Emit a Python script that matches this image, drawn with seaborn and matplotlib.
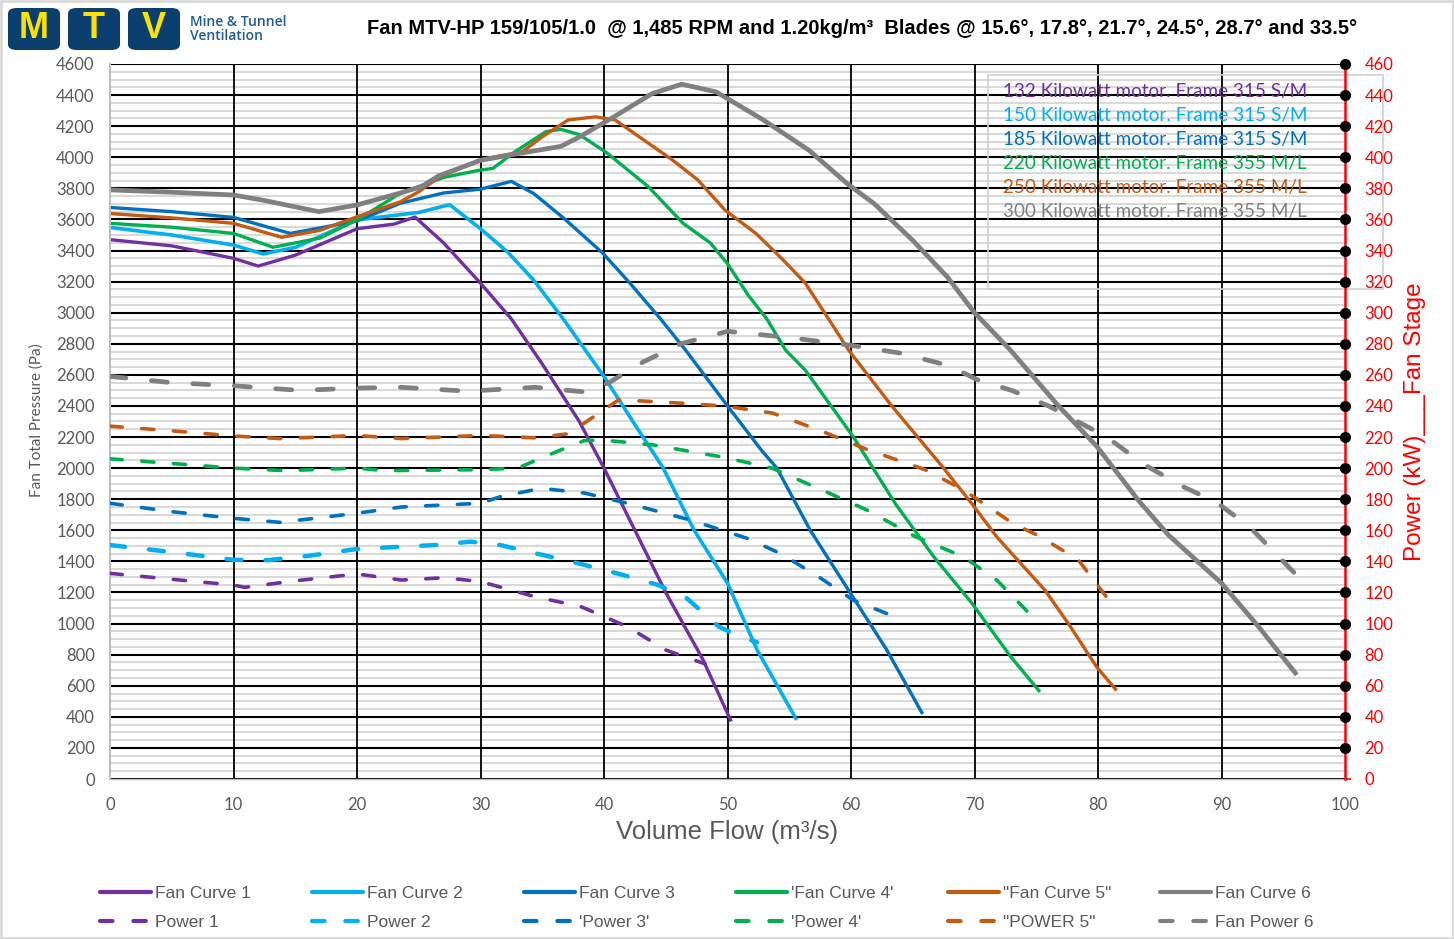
import numpy as np
import pandas as pd
import matplotlib
matplotlib.use("Agg")
import matplotlib.pyplot as plt
import seaborn as sns
from matplotlib.patches import FancyBboxPatch, Rectangle
from matplotlib.lines import Line2D

# ---------------- data ----------------
fc1_x = [0, 5, 10, 12, 15, 20, 23, 24.7, 27, 30, 32.5, 35, 38, 40, 42.5, 45, 48, 50.3]
fc1_y = [3470, 3430, 3350, 3300, 3370, 3540, 3570, 3615, 3450, 3190, 2960, 2670, 2300, 2000, 1600, 1200, 770, 370]

fc2_x = [0, 5, 10, 12.4, 15, 20, 25, 27.5, 30, 32.2, 34.3, 36.7, 40, 42.5, 44.8, 47.3, 50, 52.4, 55.6]
fc2_y = [3548, 3500, 3435, 3378, 3420, 3597, 3645, 3695, 3540, 3390, 3210, 2960, 2590, 2280, 2000, 1600, 1260, 830, 380]

fc3_x = [0, 5, 10, 14.6, 20, 23.5, 27, 30, 32.5, 34.3, 36.8, 39.9, 42.1, 44.6, 46.6, 50, 52.8, 54.0, 56.7, 60.0, 62.9, 65.8]
fc3_y = [3677, 3650, 3613, 3510, 3590, 3704, 3770, 3795, 3845, 3767, 3604, 3383, 3190, 2958, 2760, 2400, 2110, 2000, 1600, 1190, 830, 418]

fc4_x = [0, 5, 10, 13.2, 17, 20, 23.5, 27, 30, 31, 32.8, 35.3, 36.5, 38, 40.2, 43.6, 46.4, 48.6, 50, 51.7, 53.2, 54.7, 56.3, 60.2, 63.6, 66.7, 69.8, 72.9, 75.3]
fc4_y = [3575, 3550, 3510, 3421, 3480, 3597, 3768, 3870, 3918, 3928, 4036, 4165, 4180, 4146, 4030, 3810, 3575, 3450, 3315, 3110, 2958, 2760, 2630, 2200, 1770, 1430, 1130, 790, 560]

fc5_x = [0, 5, 10, 13.9, 17, 20, 23.5, 25, 26.6, 30, 33.4, 35, 37.1, 39.3, 40.9, 43.6, 45.5, 47.6, 49.8, 52.3, 54.5, 56.3, 58.2, 59.8, 63.3, 67.5, 69.8, 71.8, 75.7, 77.6, 79.9, 81.5]
fc5_y = [3638, 3610, 3575, 3485, 3530, 3617, 3713, 3778, 3870, 3985, 4036, 4132, 4240, 4260, 4240, 4090, 3985, 3854, 3660, 3510, 3340, 3190, 2958, 2760, 2400, 2000, 1770, 1558, 1215, 1000, 720, 570]

fc6_x = [0, 5, 10, 12.3, 16.9, 20, 23.5, 25.2, 26.6, 30, 32.8, 36.5, 38, 40.8, 43.9, 46.3, 49.1, 52.9, 56.6, 59.7, 61.9, 65, 67.8, 70, 72.9, 76.8, 79.9, 83.3, 85.7, 90, 93, 96.1]
fc6_y = [3790, 3775, 3757, 3725, 3650, 3693, 3770, 3810, 3880, 3980, 4020, 4070, 4130, 4260, 4410, 4470, 4420, 4240, 4045, 3830, 3700, 3465, 3230, 3000, 2760, 2400, 2140, 1790, 1570, 1260, 980, 670]

p1_x = [0, 5, 10, 10.9, 15, 20, 23.6, 27.1, 30, 34.4, 38.1, 41.9, 45, 48.2]
p1_y = [132.3, 128.5, 124.8, 123.3, 127.5, 131.9, 128, 129.5, 127, 117.3, 111, 98, 83, 74]

p2_x = [0, 5, 10, 12.8, 16, 20, 26.3, 29.2, 31.6, 35.1, 37.8, 41.2, 44.3, 46.6, 49.3, 51.2, 52.4]
p2_y = [150.5, 146, 141, 140.8, 143.5, 148, 150.5, 152.7, 150.5, 144, 139, 132, 125, 117, 98, 91, 88]

p3_x = [0, 5, 10, 13.8, 20, 23.6, 30, 31.6, 34.9, 38.4, 41.9, 47, 51.6, 54.3, 57.4, 60.2, 63.2]
p3_y = [177.4, 172, 167.7, 165.1, 171, 175, 177.4, 181.6, 187, 184, 177.4, 166.6, 154.8, 145, 130, 115, 105.5]

p4_x = [0, 5, 10, 14.1, 20, 22.2, 30, 33, 36.5, 38.4, 40, 43.9, 49.7, 53.6, 58.2, 61.3, 65.2, 69.1, 71.8, 74.3]
p4_y = [206, 203, 200, 198.4, 200, 198.4, 199, 200, 211.7, 217.7, 218, 215, 207, 200, 184, 173, 156, 143, 128, 107.6]

p5_x = [0, 5, 10, 13.8, 20, 23.6, 30, 34.4, 37, 38.6, 41.2, 45.8, 49.7, 53.6, 57.4, 61.3, 66, 69.1, 73, 75.3, 78.4, 80.7]
p5_y = [227, 224, 220.7, 219, 221, 219, 221, 219.5, 222, 230, 244, 242, 240, 235.5, 224.5, 212, 199, 186, 165, 156, 141, 117]

p6_x = [0, 5, 10, 15.4, 20, 23.6, 29, 34.4, 38.5, 40.4, 43.1, 46.2, 50, 55, 60, 64, 67.9, 70.2, 73, 76, 80.7, 83.8, 86.9, 89.6, 92.3, 96.1]
p6_y = [259, 255, 253, 250, 251.5, 252, 249.5, 252, 249, 255, 268, 280, 288, 284, 279, 274, 266, 257, 250, 240, 220, 202, 188, 178, 162, 131]

curve_labels = ["Fan Curve 1", "Fan Curve 2", "Fan Curve 3", "'Fan Curve 4'", "\"Fan Curve 5\"", "Fan Curve 6"]
power_labels = ["Power 1", "Power 2", "'Power 3'", "'Power 4'", "\"POWER 5\"", "Fan Power 6"]
motor_labels = ["132 Kilowatt motor. Frame 315 S/M",
                "150 Kilowatt motor. Frame 315 S/M",
                "185 Kilowatt motor. Frame 315 S/M",
                "220 Kilowatt motor. Frame 355 M/L",
                "250 Kilowatt motor. Frame 355 M/L",
                "300 Kilowatt motor. Frame 355 M/L"]
colors = ["#7030A0", "#00B0F0", "#0070C0", "#00B050", "#C55A11", "#808080"]

title = "Fan MTV-HP 159/105/1.0  @ 1,485 RPM and 1.20kg/m³  Blades @ 15.6°, 17.8°, 21.7°, 24.5°, 28.7° and 33.5°"

fan_curves = [(fc1_x, fc1_y), (fc2_x, fc2_y), (fc3_x, fc3_y), (fc4_x, fc4_y), (fc5_x, fc5_y), (fc6_x, fc6_y)]
powers = [(p1_x, p1_y), (p2_x, p2_y), (p3_x, p3_y), (p4_x, p4_y), (p5_x, p5_y), (p6_x, p6_y)]

# ---------------- style ----------------
sns.set_style("white")
plt.rcParams['font.family'] = ['Liberation Sans', 'DejaVu Sans']

W, H = 1454, 939
fig = plt.figure(figsize=(W / 100, H / 100), dpi=100)
ax = fig.add_axes([110 / W, 1 - 779 / H, (1345 - 110) / W, (779 - 64) / H])
ax2 = ax.twinx()

grey_txt = "#595959"

# grid
ax.set_xlim(0, 100)
ax.set_ylim(0, 4600)
xt = np.arange(0, 101, 10)
ax.set_xticks(xt)
ax.set_yticks(np.arange(0, 4601, 200))
ax.set_yticks(np.arange(0, 4601, 50), minor=True)
ax.set_axisbelow(True)
ax.grid(which="minor", axis="y", color="#D9D9D9", lw=1.5)
ax.grid(which="major", axis="y", color="black", lw=1.5)
ax.grid(False, axis="x")
ax.vlines(xt[1:-1], 0, 4600, colors="black", lw=1.3, zorder=0.9)
ax.tick_params(axis="both", which="both", length=0, labelsize=12, labelcolor=grey_txt)
ax.tick_params(axis="y", pad=11)
ax.tick_params(axis="x", pad=13)
for lab in ax.get_xticklabels() + ax.get_yticklabels():
    lab.set_family("Lato")
ax.spines["top"].set_visible(False)
ax.spines["left"].set_color("#BFBFBF")
ax.spines["left"].set_linewidth(1.5)
ax.spines["bottom"].set_color("#BFBFBF")
ax.spines["bottom"].set_linewidth(1.0)
ax.spines["right"].set_visible(False)

# fan curves
lw_solid = [2.4, 2.6, 2.4, 2.4, 2.4, 3.4]
for (xs, ys), c, lab, lw in zip(fan_curves, colors, curve_labels, lw_solid):
    sns.lineplot(x=xs, y=ys, ax=ax, color=c, lw=lw, sort=False, legend=False,
                 solid_joinstyle="round", solid_capstyle="butt", label=lab)

# power curves
ax2.set_ylim(0, 460)
ax2.set_yticks(np.arange(0, 461, 20))
lw_dash = [2.6, 3.2, 2.6, 2.6, 2.6, 3.4]
for (xs, ys), c, lab, lw in zip(powers, colors, power_labels, lw_dash):
    sns.lineplot(x=xs, y=ys, ax=ax2, color=c, lw=lw, sort=False, legend=False,
                 linestyle=(0, (3.4, 5.4)), dash_capstyle="round", dash_joinstyle="round", label=lab)

for s in ["top", "left", "bottom"]:
    ax2.spines[s].set_visible(False)
ax2.spines["right"].set_color("red")
ax2.spines["right"].set_linewidth(1.8)
ax2.tick_params(axis="y", colors="red", labelcolor="red", length=4, width=1.2, labelsize=12, pad=10)
for lab in ax2.get_yticklabels():
    lab.set_family("Lato")
rt = np.arange(20, 461, 20)
ax2.plot(np.ones(len(rt)), rt, "o", color="black", ms=7, transform=ax2.get_yaxis_transform(),
         clip_on=False, zorder=5)
ax2.set_ylabel("")
ax.set_ylabel("")
ax.set_xlabel("")

# motor text box (axes coordinates)
box = Rectangle((0.711, 0.685), 0.32, 0.3, transform=ax.transAxes, fill=False,
                edgecolor="#D0D0D0", lw=1.2, clip_on=False, zorder=3)
ax.add_patch(box)
for i, (txt, c) in enumerate(zip(motor_labels, colors)):
    fig.text(1003 / W, 1 - (92 + 24 * i) / H, txt, color=c, fontsize=13.6, family="Lato",
             va="center", ha="left")

# axis labels
fig.text(727 / W, 1 - 832 / H, "Volume Flow (m³/s)", ha="center", va="center", fontsize=18.5, color=grey_txt)
fig.text(37 / W, 1 - 420 / H, "Fan Total Pressure (Pa)", rotation=90, ha="center", va="center",
         fontsize=11, color=grey_txt, family="Lato")
fig.text(1415 / W, 1 - 422 / H, "Power (kW)___Fan Stage", rotation=90, ha="center", va="center",
         fontsize=17.5, color="red")

# title
fig.text(862 / W, 1 - 29 / H, title, ha="center", va="center", fontsize=14.5, fontweight="bold",
         family="Liberation Sans", color="black")

# logo
for i, letter in enumerate(["M", "T", "V"]):
    x0 = (8 + 60 * i) / W
    p = FancyBboxPatch((x0, 1 - 50 / H), 52 / W, 42 / H, boxstyle="round,pad=0,rounding_size=0.006",
                       transform=fig.transFigure, facecolor="#0B3F6E", edgecolor="none")
    fig.patches.append(p)
    fig.text(x0 + 26 / W, 1 - 29 / H, letter, ha="center", va="center", fontsize=26,
             fontweight="bold", color="#FFE100", family="Liberation Sans")
fig.text(190 / W, 1 - 22 / H, "Mine & Tunnel", ha="left", va="center", fontsize=10,
         fontweight="semibold", color="#1F5A96", family="Open Sans")
fig.text(190 / W, 1 - 36 / H, "Ventilation", ha="left", va="center", fontsize=10,
         fontweight="semibold", color="#1F5A96", family="Open Sans")

# legend: one small legend per column, evenly spaced like the reference
for i in range(6):
    hs = [Line2D([], [], color=colors[i], lw=3, solid_capstyle="round"),
          Line2D([], [], color=colors[i], lw=3, linestyle=(0, (3.0, 5.0)), dash_capstyle="round")]
    leg = fig.legend(hs, [curve_labels[i], power_labels[i]], loc="upper left",
                     bbox_to_anchor=((100 + 212 * i) / W, 1 - 886 / H),
                     frameon=False, fontsize=12.5, handlelength=2.95, handletextpad=0.2,
                     labelspacing=0.8, borderaxespad=0, borderpad=0)
    for t in leg.get_texts():
        t.set_color(grey_txt)

# figure border
fig.patches.append(Rectangle((0.001, 0.001), 0.998, 0.998, transform=fig.transFigure,
                             fill=False, edgecolor="#D9D9D9", lw=2))

fig.savefig("out.png", dpi=100)
